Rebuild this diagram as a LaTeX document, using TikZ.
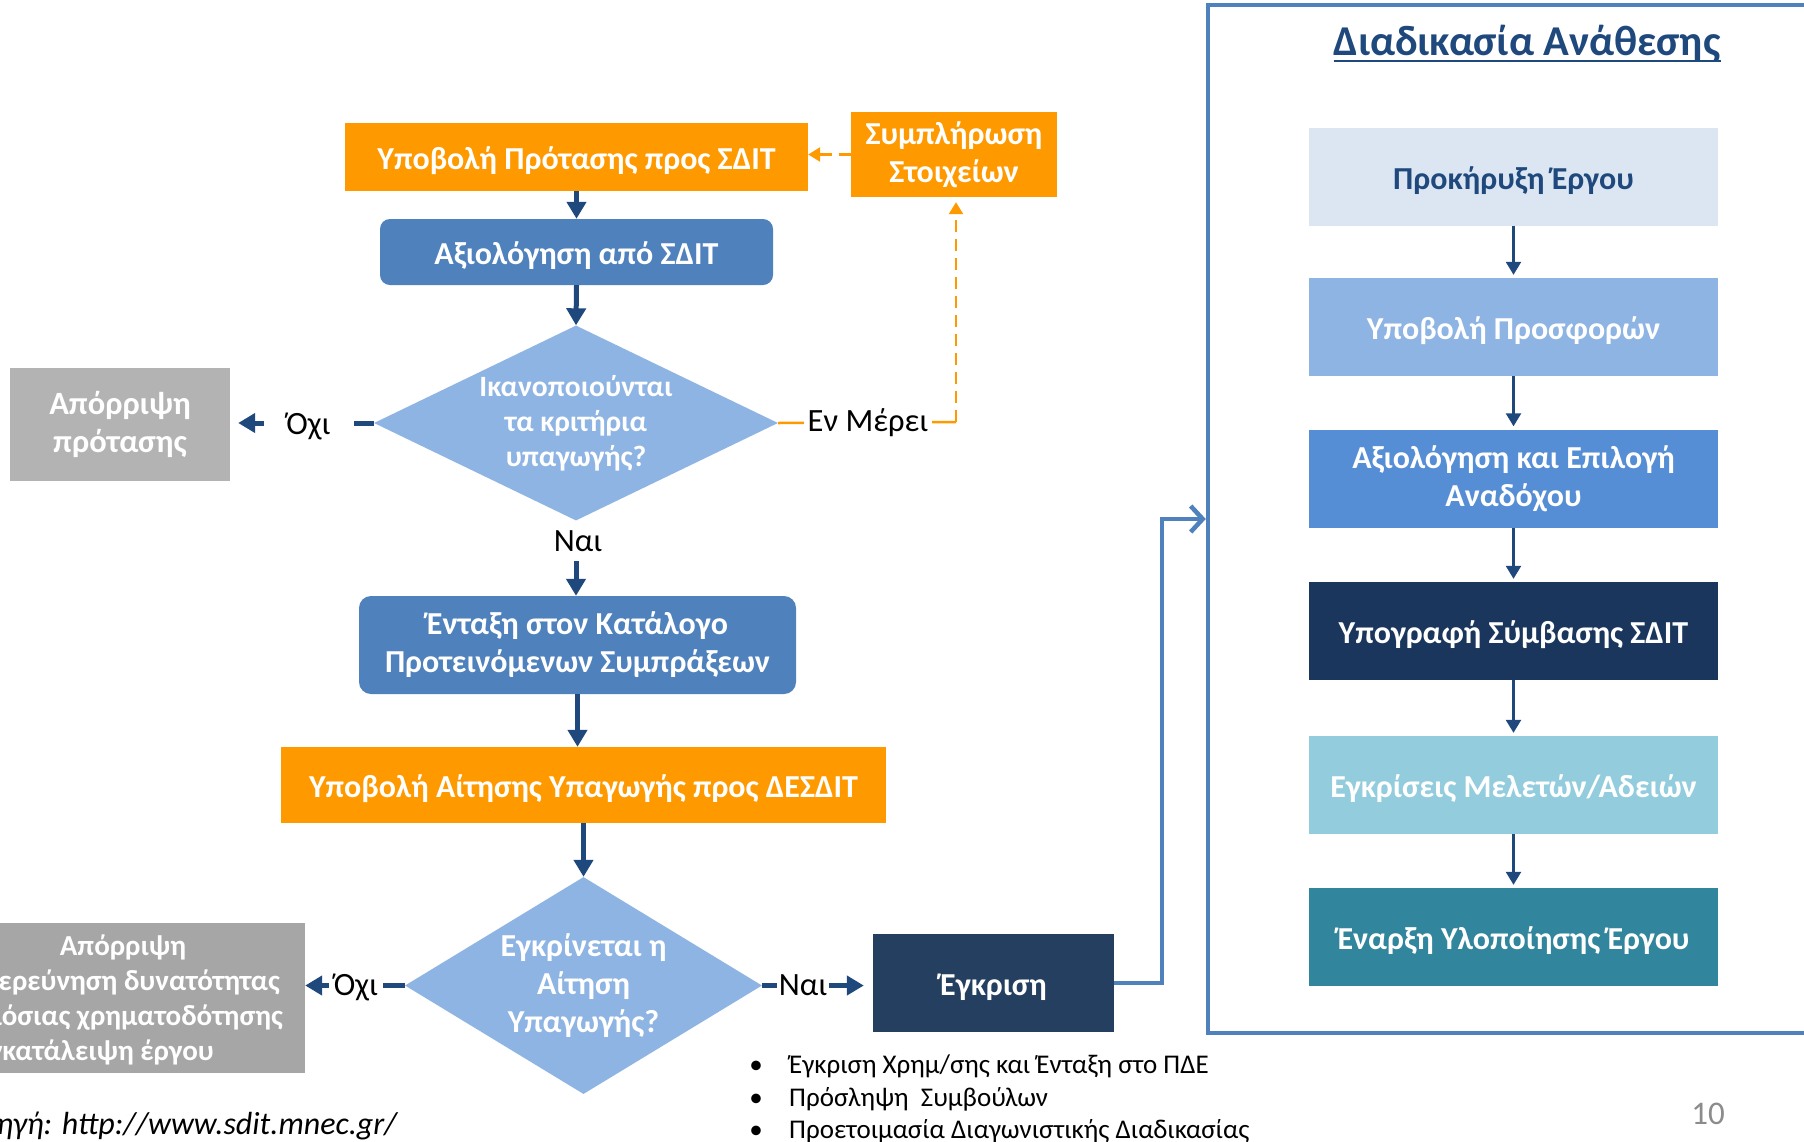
\documentclass[tikz,border=0pt]{standalone}
\usepackage{fontspec}
\setmainfont{Carlito}
\usetikzlibrary{shapes.geometric,arrows.meta}
\definecolor{orng}{HTML}{FF9900}
\definecolor{midblue}{HTML}{4F81BD}
\definecolor{lightblue}{HTML}{8EB4E3}
\definecolor{navy}{HTML}{1F497D}
\definecolor{darknavy}{HTML}{243F60}
\definecolor{grayA}{HTML}{B3B3B3}
\definecolor{grayB}{HTML}{A6A6A6}
\definecolor{paleblue}{HTML}{DCE6F2}
\definecolor{rblue}{HTML}{558ED5}
\definecolor{rnavy}{HTML}{1B365D}
\definecolor{rcyan}{HTML}{93CDDD}
\definecolor{rteal}{HTML}{31859C}
\definecolor{pgnum}{HTML}{8C8C8C}
\newcommand{\boxlift}{\rule{0pt}{0.95em}}
\tikzset{
  box/.style={rectangle, inner sep=0pt, align=center, text=white,
    font=\bfseries\fontsize{32}{38}\selectfont, execute at begin node=\boxlift},
  rbox/.style={box, minimum width=409pt, minimum height=98pt,
    font=\bfseries\fontsize{32}{38}\selectfont},
  decision/.style={diamond, fill=lightblue, inner sep=0pt, align=center,
    text=white},
  flow/.style={draw=navy, line width=5pt, -{Triangle[length=17pt,width=19pt]}},
  rarrow/.style={draw=navy, line width=2.5pt, -{Triangle[length=13pt,width=15pt]},
    shorten >=3pt},
  oline/.style={draw=orng, line width=2.5pt},
  odash/.style={oline, dash pattern=on 12pt off 7pt, -{Triangle[length=12pt,width=14pt]}},
  lbl/.style={fill=white, inner sep=0pt, text=black,
    font=\fontsize{32.5}{38}\selectfont},
  conn/.style={draw=midblue, line width=4.5pt,
    -{Straight Barb[length=12pt,width=26pt]}},
  rejtext/.style={inner sep=0pt, text=white, font=\bfseries\fontsize{29}{35}\selectfont},
  bullet/.style={anchor=base, inner sep=0pt, font=\fontsize{27}{32}\selectfont},
  btext/.style={anchor=base west, inner sep=0pt, font=\fontsize{27}{32}\selectfont},
}
\begin{document}
\begin{tikzpicture}[x=1pt,y=-1pt]
\useasboundingbox (0,0) rectangle (1804,1141);
\fill[white] (0,0) rectangle (1804,1141);
\clip (0,0) rectangle (1804,1141);

% ---------- left flow ----------
\node[box, fill=orng, minimum width=463pt, minimum height=68pt] (p1) at (576.5,157) {Υποβολή Πρότασης προς ΣΔΙΤ};
\node[box, fill=orng, minimum width=206pt, minimum height=85pt] (sum) at (954,154.5) {Συμπλήρωση\\Στοιχείων};
\node[box, fill=midblue, rounded corners=10pt, minimum width=393pt, minimum height=66pt] (eval) at (576.5,252) {Αξιολόγηση από ΣΔΙΤ};
\node[decision, aspect=2.07, minimum width=404pt, minimum height=195pt,
  font=\bfseries\fontsize{29.5}{35}\selectfont] (d1) at (576,423) {Ικανοποιούνται\\τα κριτήρια\\υπαγωγής?};
\node[box, fill=grayA, minimum width=220pt, minimum height=113pt,
  font=\bfseries\fontsize{32.5}{38}\selectfont] (rej1) at (120,424.5) {Απόρριψη\\πρότασης};
\node[box, fill=midblue, rounded corners=12pt, minimum width=437pt, minimum height=98pt] (ent) at (577.5,645) {Ένταξη στον Κατάλογο\\Προτεινόμενων Συμπράξεων};
\node[box, fill=orng, minimum width=605pt, minimum height=76pt] (ait) at (583.5,785) {Υποβολή Αίτησης Υπαγωγής προς ΔΕΣΔΙΤ};
\node[decision, aspect=1.65, minimum width=357pt, minimum height=217pt,
  font=\bfseries\fontsize{32}{38}\selectfont] (d2) at (583.5,985.5) {Εγκρίνεται η\\Αίτηση\\Υπαγωγής?};
\node[fill=grayB, inner sep=0pt, minimum width=364pt, minimum height=150pt] (rej2) at (123,998) {};
\node[rejtext, anchor=base] (rj0) at (123,955) {Απόρριψη};
\node[rejtext, anchor=base east] (rj1) at (280,990) {Διερεύνηση δυνατότητας};
\node[rejtext, anchor=base east] (rj2) at (283,1025) {δημόσιας χρηματοδότησης};
\node[rejtext, anchor=base east] (rj3) at (214,1060) {Εγκατάλειψη έργου};
\node[box, fill=darknavy, minimum width=241pt, minimum height=98pt] (appr) at (993.5,983) {Έγκριση};

% connectors
\draw[flow] (p1.south) -- (eval.north);
\draw[flow] (eval.south) -- (d1.north);
\draw[flow] (d1.west) -- ([xshift=8pt]d1.west -| rej1.east);
\draw[flow] (d1.south) -- (d1.south |- ent.north);
\draw[flow] (ent.south) -- (ent.south |- ait.north);
\draw[flow] (ait.south) -- (d2.north);
\draw[flow] (d2.west) -- (d2.west -| rej2.east);
\draw[flow] (d2.east) -- ([xshift=-9pt]d2.east -| appr.west);

\coordinate (emc) at (956,422);
\draw[oline] (d1.east) -- (emc);
\draw[odash] (emc) -- ([yshift=-5pt]emc |- sum.south);
\draw[odash] (sum.west) -- (sum.west -| p1.east);

\node[lbl, minimum width=90pt, minimum height=40pt] (no1) at (308.5,426) {Όχι};
\node[lbl, minimum width=128pt, minimum height=40pt] (em) at (868,423) {Εν Μέρει};
\node[lbl, minimum width=60pt, minimum height=40pt] (yes1) at (578,541) {Ναι};
\node[lbl, minimum width=54pt, minimum height=36pt] (no2) at (356,987) {Όχι};
\node[lbl, minimum width=52pt, minimum height=36pt] (yes2) at (803,985) {Ναι};

% ---------- right panel ----------
\node[draw=midblue, line width=4.5pt, inner sep=0pt, minimum width=632pt, minimum height=1028pt] (panel) at (1524,519) {};
\coordinate (bend) at (1162,983);
\draw[conn] (appr.east) -- (bend) |- (panel.west);

\node[anchor=base, inner sep=0pt, text=navy, font=\bfseries\fontsize{42.5}{50}\selectfont] (title) at (1527,55) {Διαδικασία Ανάθεσης};
\draw[navy, line width=2.5pt] ([yshift=-6pt]title.base west) -- ([yshift=-6pt]title.base east);

\node[rbox, fill=paleblue, text=navy] (r1) at (1513.5,176.5) {Προκήρυξη Έργου};
\node[rbox, fill=lightblue] (r2) at (1513.5,327) {Υποβολή Προσφορών};
\node[rbox, fill=rblue] (r3) at (1513.5,478.5) {Αξιολόγηση και Επιλογή\\Αναδόχου};
\node[rbox, fill=rnavy] (r4) at (1513.5,631) {Υπογραφή Σύμβασης ΣΔΙΤ};
\node[rbox, fill=rcyan] (r5) at (1513.5,785) {Εγκρίσεις Μελετών/Αδειών};
\node[rbox, fill=rteal] (r6) at (1513.5,937) {Έναρξη Υλοποίησης Έργου};
\draw[rarrow] (r1) -- (r2);
\draw[rarrow] (r2) -- (r3);
\draw[rarrow] (r3) -- (r4);
\draw[rarrow] (r4) -- (r5);
\draw[rarrow] (r5) -- (r6);

% ---------- texts ----------
\node[bullet] (b1) at (756,1073) {•};
\node[bullet] (b2) at (756,1106) {•};
\node[bullet] (b3) at (756,1138) {•};
\node[btext] (t1) at (789,1073) {Έγκριση Χρημ/σης και Ένταξη στο ΠΔΕ};
\node[btext] (t2) at (789,1106) {Πρόσληψη\ \ Συμβούλων};
\node[btext] (t3) at (789,1138) {Προετοιμασία Διαγωνιστικής Διαδικασίας};

\node[anchor=base east, inner sep=0pt, font=\itshape\fontsize{32}{36}\selectfont] (src) at (397,1134) {Πηγή: http://www.sdit.mnec.gr/};
\node[text=pgnum, inner sep=0pt, font=\fontsize{33}{36}\selectfont] (pg) at (1708,1114) {10};
\end{tikzpicture}
\end{document}
